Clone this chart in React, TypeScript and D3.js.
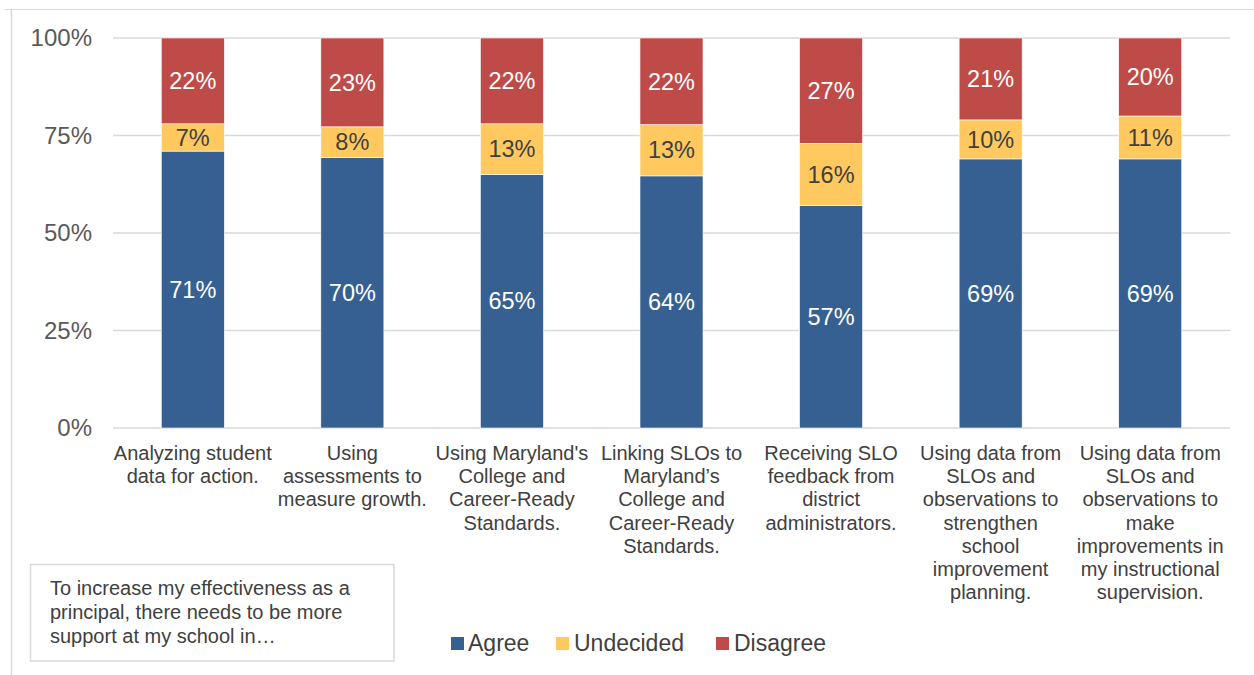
import React from "react";
import * as d3 from "d3";

const categories: string[][] = [
  ["Analyzing student", "data for action."],
  ["Using", "assessments to", "measure growth."],
  ["Using Maryland's", "College and", "Career-Ready", "Standards."],
  ["Linking SLOs to", "Maryland’s", "College and", "Career-Ready", "Standards."],
  ["Receiving SLO", "feedback from", "district", "administrators."],
  ["Using data from", "SLOs and", "observations to", "strengthen", "school", "improvement", "planning."],
  ["Using data from", "SLOs and", "observations to", "make", "improvements in", "my instructional", "supervision."],
];
const agree = [71, 70, 65, 64, 57, 69, 69];
const undecided = [7, 8, 13, 13, 16, 10, 11];
const disagree = [22, 23, 22, 22, 27, 21, 20];
const seriesNames = ["Agree", "Undecided", "Disagree"];
const seriesColors = ["#366092", "#FFC95F", "#BE4B48"];
const labelColors = ["#ffffff", "#404040", "#ffffff"];
const yTicks = [0, 25, 50, 75, 100];
const noteLines = ["To increase my effectiveness as a", "principal, there needs to be more", "support at my school in…"];

const FONT = "'Liberation Sans', Arial, Helvetica, sans-serif";

export default function App() {
  const W = 1254, H = 675;
  const left = 113, right = 1230, top = 38, bottom = 428;
  const x = d3.scaleBand<number>().domain(d3.range(categories.length)).range([left, right]).paddingInner(0.605).paddingOuter(0.3025);
  const y = d3.scaleLinear().domain([0, 1]).range([bottom, top]);
  const yAxis = d3.scaleLinear().domain([0, 100]).range([bottom, top]);

  const rows = categories.map((_, i) => {
    const vals = [agree[i], undecided[i], disagree[i]];
    const sum = d3.sum(vals);
    return { vals, sum };
  });

  const stackData = rows.map((r) => ({ a: r.vals[0] / r.sum, u: r.vals[1] / r.sum, d: r.vals[2] / r.sum }));
  const stacked = d3.stack<any>().keys(["a", "u", "d"])(stackData);

  const legendItems = [
    { sx: 451, tx: 468 },
    { sx: 556, tx: 574 },
    { sx: 716, tx: 734 },
  ];

  return (
    <svg width={W} height={H} style={{ position: "absolute", left: 0, top: 0, background: "#fff" }} fontFamily={FONT}>
      <line x1={5} x2={W} y1={9.5} y2={9.5} stroke="#d9d9d9" strokeWidth={1} />
      <line x1={11.5} x2={11.5} y1={9} y2={H} stroke="#d9d9d9" strokeWidth={1.5} />
      {yTicks.map((t) => (
        <g key={t}>
          <line x1={left} x2={right} y1={yAxis(t)} y2={yAxis(t)} stroke="#d9d9d9" strokeWidth={1.5} />
          <text x={92} y={yAxis(t)} dy="0.35em" textAnchor="end" fontSize={24} fill="#595959">{t}%</text>
        </g>
      ))}
      {stacked.map((s, si) => (
        <g key={si}>
          {s.map((d, i) => {
            const y0 = y(d[0]), y1 = y(d[1]);
            const bx = x(i)!;
            const bw = x.bandwidth();
            return (
              <g key={i}>
                <rect x={bx} y={y1} width={bw} height={y0 - y1} fill={seriesColors[si]} stroke="#fff" strokeWidth={0.6} />
                <text x={bx + bw / 2} y={(y0 + y1) / 2} dy="0.35em" textAnchor="middle" fontSize={23.5} fill={labelColors[si]}>
                  {rows[i].vals[si]}%
                </text>
              </g>
            );
          })}
        </g>
      ))}
      {categories.map((lines, i) => (
        <text key={i} x={x(i)! + x.bandwidth() / 2} y={460} textAnchor="middle" fontSize={20} fill="#404040">
          {lines.map((l, j) => (
            <tspan key={j} x={x(i)! + x.bandwidth() / 2} dy={j === 0 ? 0 : 23.2}>{l}</tspan>
          ))}
        </text>
      ))}
      <rect x={30.5} y={564.5} width={363.5} height={96.5} fill="#fff" stroke="#d9d9d9" strokeWidth={1.5} />
      <text x={50} y={595} fontSize={20} fill="#404040">
        {noteLines.map((l, j) => (
          <tspan key={j} x={50} dy={j === 0 ? 0 : 24}>{l}</tspan>
        ))}
      </text>
      {seriesNames.map((n, i) => (
        <g key={n}>
          <rect x={legendItems[i].sx} y={637} width={13} height={13} fill={seriesColors[i]} />
          <text x={legendItems[i].tx} y={651} fontSize={23} fill="#404040">{n}</text>
        </g>
      ))}
    </svg>
  );
}
